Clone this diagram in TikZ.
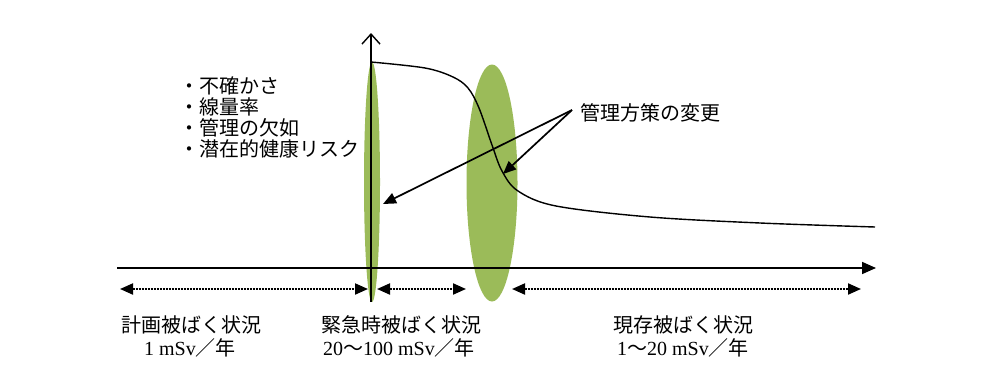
\documentclass[tikz,border=0pt]{standalone}
\usepackage{fontspec}
\setmainfont{Liberation Serif}
\newfontfamily\jp{Noto Sans CJK JP}
\usetikzlibrary{arrows.meta}
\definecolor{olive}{HTML}{9BBB59}
\begin{document}
\begin{tikzpicture}[x=1pt,y=-1pt,
  zone/.style={fill=olive,draw=none},
  axis/.style={line width=1.7pt},
  pointer/.style={line width=1.7pt,-{Triangle[length=13pt,width=11pt]}},
  span/.style={line width=2pt,densely dotted,{Triangle[length=13pt,width=11pt]}-{Triangle[length=13pt,width=11pt]}},
  lbl/.style={font=\fontsize{20}{24}\selectfont,inner sep=0pt,align=center}]
\useasboundingbox (0,0) rectangle (988,380);
% green zones
\fill[zone] (372,182) ellipse [x radius=8, y radius=120];
\fill[zone] (492,183) ellipse [x radius=25.5, y radius=118.5];
% axes
\coordinate (vb) at (371,302);
\coordinate (vt) at (371,33);
\coordinate (hl) at (117,268);
\coordinate (hr) at (876,268);
\draw[axis,-{Straight Barb[length=10pt,width=18pt,line width=1.4pt]}] (vb) -- (vt);
\draw[axis,-{Triangle[length=14pt,width=12pt]}] (hl) -- (hr);
% curve
\draw[line width=1.4pt] plot[smooth,tension=0.55] coordinates {(371,62) (425,68) (453,77) (468,88) (479,108) (492,145) (502,171) (518,191) (556,206) (650,217) (760,223) (875,227)};
% bullets
\node[lbl,anchor=west,align=left] (list) at (179,117) {\jp ・不確かさ\\[-3pt]\jp ・線量率\\[-3pt]\jp ・管理の欠如\\[-3pt]\jp ・潜在的健康リスク};
% pointer label
\node[lbl,anchor=west] (mgmt) at (580,113) {\jp 管理方策の変更};
\coordinate (src) at (572,110);
\coordinate (t1) at (383,204);
\coordinate (t2) at (503,174);
\draw[pointer] (src) -- (t1);
\draw[pointer] (src) -- (t2);
% spans
\coordinate (s1a) at (120,289); \coordinate (s1b) at (368,289);
\coordinate (s2a) at (377,289); \coordinate (s2b) at (466,289);
\coordinate (s3a) at (512,289); \coordinate (s3b) at (861,289);
\draw[span] (s1a) -- (s1b);
\draw[span] (s2a) -- (s2b);
\draw[span] (s3a) -- (s3b);
% bottom labels
\node[lbl] (p1) at (191,325) {\jp 計画被ばく状況};
\node[lbl] (p2) at (190,348) {1 mSv{\jp ／年}};
\node[lbl] (e1) at (401,325) {\jp 緊急時被ばく状況};
\node[lbl] (e2) at (399,348) {20{\jp ～}100 mSv{\jp ／年}};
\node[lbl] (x1) at (683,325) {\jp 現存被ばく状況};
\node[lbl] (x2) at (683,348) {1{\jp ～}20 mSv{\jp ／年}};
\end{tikzpicture}
\end{document}
